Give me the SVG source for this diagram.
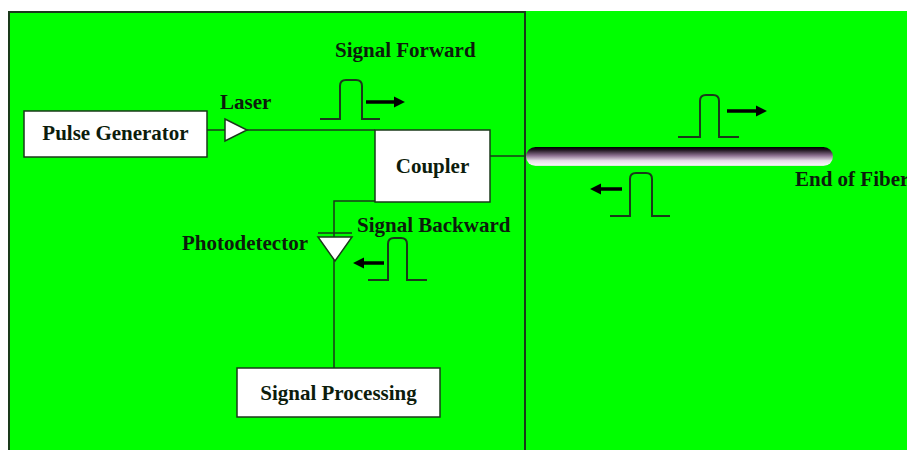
<svg xmlns="http://www.w3.org/2000/svg" width="907" height="450" viewBox="0 0 907 450">
<style>
.lbl{font-family:"Liberation Serif","Times New Roman",serif;font-weight:bold;font-size:21px;fill:#0c1c0c}
.box{fill:#ffffff;stroke:#1a3a1a;stroke-width:1.5}
.ln{fill:none;stroke:#1a3a1a;stroke-width:1.5}
.pulse{fill:none;stroke:#1a3a1a;stroke-width:2}
.arr{stroke:#000;stroke-width:3.5;fill:none}
</style>
<defs>
<marker id="ah" viewBox="0 0 10 10" refX="2" refY="5" markerWidth="3.2" markerHeight="3.2" orient="auto" markerUnits="strokeWidth">
<path d="M0 0 L10 5 L0 10 Z" fill="#000"/>
</marker>
<linearGradient id="fib" x1="0" y1="0" x2="0" y2="1">
<stop offset="0" stop-color="#000000"/>
<stop offset="0.15" stop-color="#1e141e"/>
<stop offset="0.45" stop-color="#8c7090"/>
<stop offset="0.72" stop-color="#e6dce8"/>
<stop offset="0.92" stop-color="#f4f4f4"/>
<stop offset="1" stop-color="#d0ecd0"/>
</linearGradient>
</defs>
<rect x="0" y="0" width="907" height="450" fill="#ffffff"/>
<rect x="526" y="11" width="381" height="440" fill="#00ff00"/>
<rect x="9" y="12" width="516" height="450" fill="#00ff00" stroke="#1a3a1a" stroke-width="2"/>

<g id="connectors">
<path class="ln" d="M207 130 H225"/>
<path class="ln" d="M247 130 H375"/>
<path class="ln" d="M490 156 H526"/>
<path class="ln" d="M375 201 H334 V368"/>
</g>

<g id="pulse-generator">
<rect class="box" x="24" y="111" width="183" height="46"/>
<text class="lbl" x="115.5" y="140" text-anchor="middle">Pulse Generator</text>
</g>

<g id="laser">
<polygon points="225,119 247,130 225,141" fill="#ffffff" stroke="#1a3a1a" stroke-width="1.5"/>
<text class="lbl" x="220" y="109">Laser</text>
</g>

<g id="coupler">
<rect class="box" x="375" y="130" width="115" height="72"/>
<text class="lbl" x="432.5" y="173" text-anchor="middle">Coupler</text>
</g>

<g id="photodetector">
<path class="ln" d="M318 233 H352"/>
<polygon points="318,237 352,237 335,261" fill="#ffffff" stroke="#1a3a1a" stroke-width="1.5"/>
<text class="lbl" x="182" y="250">Photodetector</text>
</g>

<g id="signal-processing">
<rect class="box" x="237" y="368" width="203" height="49"/>
<text class="lbl" x="338.5" y="400" text-anchor="middle">Signal Processing</text>
</g>

<g id="fiber">
<rect x="526" y="147" width="307" height="19" rx="9.5" ry="9.5" fill="url(#fib)"/>
<text class="lbl" x="795" y="186">End of Fiber</text>
</g>

<g id="signal-forward">
<text class="lbl" x="335" y="57">Signal Forward</text>
<path class="pulse" d="M320 119 H340 V86 Q340 80 346 80 H356 Q362 80 362 86 V119 H380"/>
<path class="arr" d="M366 102 H396" marker-end="url(#ah)"/>
</g>

<g id="signal-backward">
<text class="lbl" x="357" y="232">Signal Backward</text>
<path class="pulse" d="M368 280 H388 V244 Q388 238 394 238 H401 Q407 238 407 244 V280 H427"/>
<path class="arr" d="M384 263 H362" marker-end="url(#ah)"/>
</g>

<g id="fiber-pulses">
<path class="pulse" d="M678 137 H700 V101 Q700 95 706 95 H713 Q719 95 719 101 V137 H739"/>
<path class="arr" d="M727 111 H758" marker-end="url(#ah)"/>
<path class="pulse" d="M610 216 H630 V179 Q630 173 636 173 H646 Q652 173 652 179 V216 H670"/>
<path class="arr" d="M622 189 H599" marker-end="url(#ah)"/>
</g>
</svg>
